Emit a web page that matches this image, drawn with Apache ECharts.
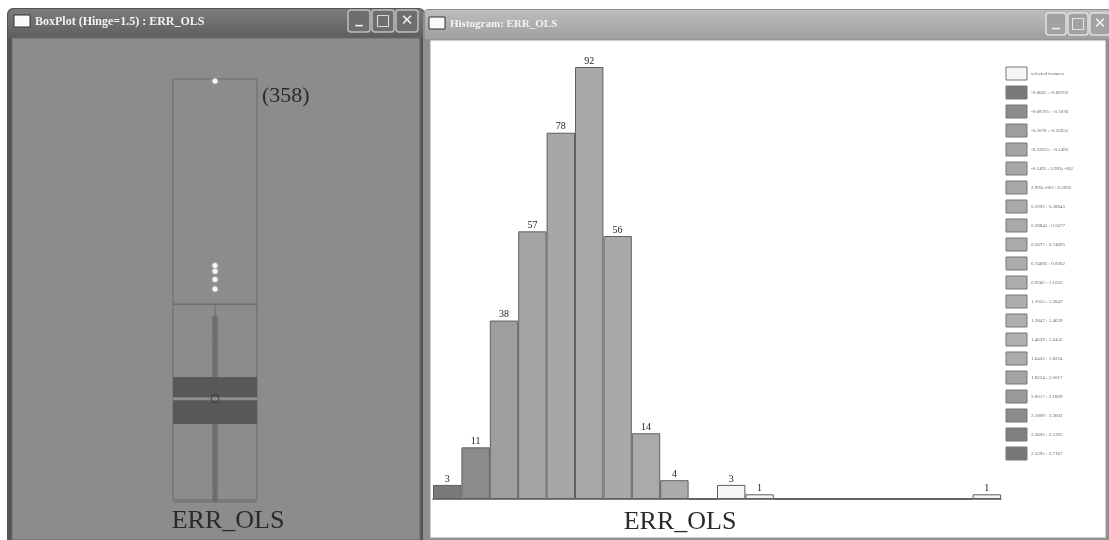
<!DOCTYPE html>
<html>
<head>
<meta charset="utf-8">
<script src="https://cdn.jsdelivr.net/npm/echarts@6/dist/echarts.min.js"></script>
<style>
  html, body { margin: 0; padding: 0; background: #fff; }
  #main { width: 1109px; height: 540px; }
</style>
</head>
<body>
<div id="main"></div>
<script>
// histogram bins (20 equal-width bins of ERR_OLS)
const binLabels = [
  '-0.8665 : -0.68705', '-0.68705 : -0.5076', '-0.5076 : -0.32655', '-0.32655 : -0.1495',
  '-0.1495 : 2.993e-002', '2.993e-002 : 0.2092', '0.2092 : 0.38845', '0.38845 : 0.5677',
  '0.5677 : 0.74695', '0.74695 : 0.9262', '0.9262 : 1.1055', '1.1055 : 1.2847',
  '1.2847 : 1.4639', '1.4639 : 1.6432', '1.6432 : 1.8224', '1.8224 : 2.0017',
  '2.0017 : 2.1809', '2.1809 : 2.3602', '2.3602 : 2.5395', '2.5395 : 2.7167'
];
const binCounts = [3, 11, 38, 57, 78, 92, 56, 14, 4, 0, 3, 1, 0, 0, 0, 0, 0, 0, 0, 1];
const binSelected = [0, 0, 0, 0, 0, 0, 0, 0, 0, 0, 1, 1, 0, 0, 0, 0, 0, 0, 0, 1];

// box plot summary (hinge = 1.5)
const obsCount = 358;
const varMin = -0.8665;
const varMax = 2.7167;
const q1 = -0.22;
const median = -0.004;
const q3 = 0.18;
const upperFence = 0.80;
const meanVal = -0.004;
const outliers = [2.70, 1.13, 1.08, 1.01, 0.93];
const stripVals = [
  0.68, 0.665, 0.64, 0.625, 0.60, 0.575, 0.555, 0.53, 0.51, 0.49, 0.455, 0.44,
  0.41, 0.39, 0.365, 0.345, 0.32, 0.295, 0.27, 0.25, 0.23, 0.205, 0.19,
  0.12, 0.06, -0.02, -0.09, -0.16,
  -0.235, -0.26, -0.285, -0.31, -0.335, -0.36, -0.385, -0.41, -0.44, -0.46,
  -0.49, -0.515, -0.54, -0.56, -0.575, -0.59, -0.615, -0.64, -0.67, -0.70,
  -0.73, -0.76, -0.80, -0.84, -0.86
];

// styles
const binColors = [
  '#7a7a7a', '#8c8c8c', '#9e9e9e', '#a4a4a4', '#a7a7a7', '#a8a8a8', '#a9a9a9', '#aaaaaa',
  '#ababab', '#acacac', '#adadad', '#aeaeae', '#afafaf', '#b0b0b0', '#acacac', '#a3a3a3',
  '#999999', '#8c8c8c', '#7f7f7f', '#777777'
];
const selColor = '#f6f6f6';
const serif = '"Liberation Serif", "DejaVu Serif", serif';

const chart = echarts.init(document.getElementById('main'));

// window chrome
function titleButtons(x0, y0, w, gap, h, fill, stroke) {
  const glyphs = ['_', '\u25A1', '\u2715'];
  const out = [];
  glyphs.forEach((g, i) => {
    const x = x0 + i * (w + gap);
    out.push({
      type: 'rect', z: 1,
      shape: { x: x, y: y0, width: w, height: h, r: 3 },
      style: { fill: fill, stroke: stroke, lineWidth: 1.5 }
    });
    out.push({
      type: 'text', z: 2, x: x + w / 2, y: y0 + h / 2 + (i === 0 ? -2 : 0),
      style: { text: g, fill: '#f4f4f4', font: 'bold 15px "DejaVu Sans", sans-serif',
        align: 'center', verticalAlign: 'middle' }
    });
  });
  return out;
}

const legendItems = ['selected features'].concat(binLabels);
const legendColors = [selColor].concat(binColors);
const legendGraphics = [];
legendItems.forEach((t, i) => {
  const y = 67 + i * 19;
  legendGraphics.push({
    type: 'rect', z: 1,
    shape: { x: 1006, y: y, width: 21, height: 13 },
    style: { fill: legendColors[i], stroke: '#777', lineWidth: 1 }
  });
  legendGraphics.push({
    type: 'text', z: 1, x: 1031, y: y + 7,
    style: { text: t, fill: '#666', font: '5px ' + serif, verticalAlign: 'middle' }
  });
});

const graphics = [
  // left window
  { type: 'rect', z: 0, shape: { x: 7, y: 8, width: 418, height: 540, r: [6, 6, 0, 0] },
    style: { fill: '#555' } },
  { type: 'rect', z: 0, shape: { x: 8, y: 9, width: 416, height: 29, r: [6, 6, 0, 0] },
    style: { fill: new echarts.graphic.LinearGradient(0, 0, 0, 1, [
      { offset: 0, color: '#7c7c7c' }, { offset: 1, color: '#5e5e5e' }]) } },
  { type: 'rect', z: 0, shape: { x: 12, y: 38, width: 408, height: 502 },
    style: { fill: '#8c8c8c', stroke: '#6a6a6a', lineWidth: 1 } },
  { type: 'rect', z: 1, shape: { x: 14, y: 15, width: 16, height: 12 },
    style: { fill: '#fafafa', stroke: '#333', lineWidth: 1 } },
  { type: 'text', z: 1, x: 35, y: 22,
    style: { text: 'BoxPlot (Hinge=1.5) : ERR_OLS', fill: '#f2f2f2',
      font: 'bold 12px ' + serif, verticalAlign: 'middle' } },
  // right window
  { type: 'rect', z: 0, shape: { x: 423, y: 9, width: 686, height: 531, r: [5, 0, 0, 0] },
    style: { fill: '#8f8f8f' } },
  { type: 'rect', z: 0, shape: { x: 425, y: 10, width: 684, height: 29 },
    style: { fill: new echarts.graphic.LinearGradient(0, 0, 0, 1, [
      { offset: 0, color: '#bdbdbd' }, { offset: 1, color: '#9f9f9f' }]) } },
  { type: 'rect', z: 0, shape: { x: 430, y: 40, width: 676, height: 498 },
    style: { fill: '#ffffff', stroke: '#9a9a9a', lineWidth: 1 } },
  { type: 'rect', z: 1, shape: { x: 429, y: 17, width: 16, height: 12 },
    style: { fill: '#fafafa', stroke: '#333', lineWidth: 1 } },
  { type: 'text', z: 1, x: 450, y: 24,
    style: { text: 'Histogram: ERR_OLS', fill: '#f4f4f4',
      font: 'bold 11px ' + serif, verticalAlign: 'middle' } },
  // labels
  { type: 'text', z: 3, x: 262, y: 96,
    style: { text: '(' + obsCount + ')', fill: '#2a2a2a', font: '22px ' + serif,
      verticalAlign: 'middle' } },
  { type: 'text', z: 3, x: 228, y: 521,
    style: { text: 'ERR_OLS', fill: '#2a2a2a', font: '26px ' + serif,
      align: 'center', verticalAlign: 'middle' } },
  { type: 'text', z: 3, x: 680, y: 522,
    style: { text: 'ERR_OLS', fill: '#2a2a2a', font: '26px ' + serif,
      align: 'center', verticalAlign: 'middle' } }
].concat(
  titleButtons(348, 10, 22, 2, 22, '#6e6e6e', '#bdbdbd'),
  titleButtons(1046, 13, 20, 2, 22, '#a2a2a2', '#e0e0e0'),
  legendGraphics
);

const option = {
  animation: false,
  backgroundColor: '#ffffff',
  graphic: graphics,
  grid: [
    { left: 173, width: 84, top: 79, height: 421 },
    { left: 433, width: 568, top: 67, height: 432 }
  ],
  xAxis: [
    { gridIndex: 0, type: 'value', min: 0, max: 1, show: false },
    {
      gridIndex: 1, type: 'category', data: binLabels,
      axisLine: { lineStyle: { color: '#555', width: 1.5 } },
      axisTick: { show: false }, axisLabel: { show: false }
    }
  ],
  yAxis: [
    { gridIndex: 0, type: 'value', min: varMin, max: varMax, show: false },
    { gridIndex: 1, type: 'value', min: 0, max: 92, show: false }
  ],
  series: [
    {
      type: 'scatter', xAxisIndex: 0, yAxisIndex: 0, z: 2,
      symbol: 'circle', symbolSize: 6,
      itemStyle: { color: '#717171', opacity: 1 },
      data: stripVals.map(v => [0.5, v])
    },
    {
      type: 'custom', xAxisIndex: 0, yAxisIndex: 0, z: 3,
      data: [[0.5]],
      renderItem: function (params, api) {
        const xl = api.coord([0, 0])[0];
        const xr = api.coord([1, 0])[0];
        const xc = api.coord([0.5, 0])[0];
        const yMax = api.coord([0, varMax])[1];
        const yFence = api.coord([0, upperFence])[1];
        const yMin = api.coord([0, varMin])[1];
        const yQ3 = api.coord([0, q3])[1];
        const yMed = api.coord([0, median])[1];
        const yQ1 = api.coord([0, q1])[1];
        const yMean = api.coord([0, meanVal])[1];
        const line = { stroke: '#6a6a6a', lineWidth: 1, fill: null };
        return {
          type: 'group',
          children: [
            { type: 'line', shape: { x1: xc, y1: yFence, x2: xc, y2: yMin }, style: line },
            { type: 'rect', shape: { x: xl, y: yMax, width: xr - xl, height: yFence - yMax }, style: line },
            { type: 'rect', shape: { x: xl, y: yFence, width: xr - xl, height: yMin - yFence }, style: line },
            { type: 'line', shape: { x1: xl, y1: yMin + 2, x2: xr, y2: yMin + 2 }, style: line },
            { type: 'rect', shape: { x: xl, y: yQ3, width: xr - xl, height: yQ1 - yQ3 },
              style: { fill: '#585858' } },
            { type: 'line', shape: { x1: xl, y1: yMed, x2: xr, y2: yMed },
              style: { stroke: '#8e8e8e', lineWidth: 3 } },
            { type: 'circle', shape: { cx: xc, cy: yMean, r: 4 },
              style: { stroke: '#3a3a3a', fill: null, lineWidth: 1 } }
          ]
        };
      }
    },
    {
      type: 'scatter', xAxisIndex: 0, yAxisIndex: 0, z: 4,
      symbol: 'circle', symbolSize: 5,
      itemStyle: { color: '#ffffff', shadowColor: '#ffffff', shadowBlur: 2 },
      data: outliers.map(v => [0.5, v])
    },
    {
      type: 'bar', xAxisIndex: 1, yAxisIndex: 1,
      barCategoryGap: '0%',
      data: binCounts.map((v, i) => ({
        value: v,
        itemStyle: { color: binSelected[i] ? selColor : binColors[i] }
      })),
      itemStyle: { borderColor: '#5f5f5f', borderWidth: 1 },
      label: {
        show: true, position: 'top', distance: 1,
        fontFamily: serif, fontSize: 10, color: '#222',
        formatter: p => (p.value > 0 ? p.value : '')
      }
    }
  ]
};

chart.setOption(option);
</script>
</body>
</html>
